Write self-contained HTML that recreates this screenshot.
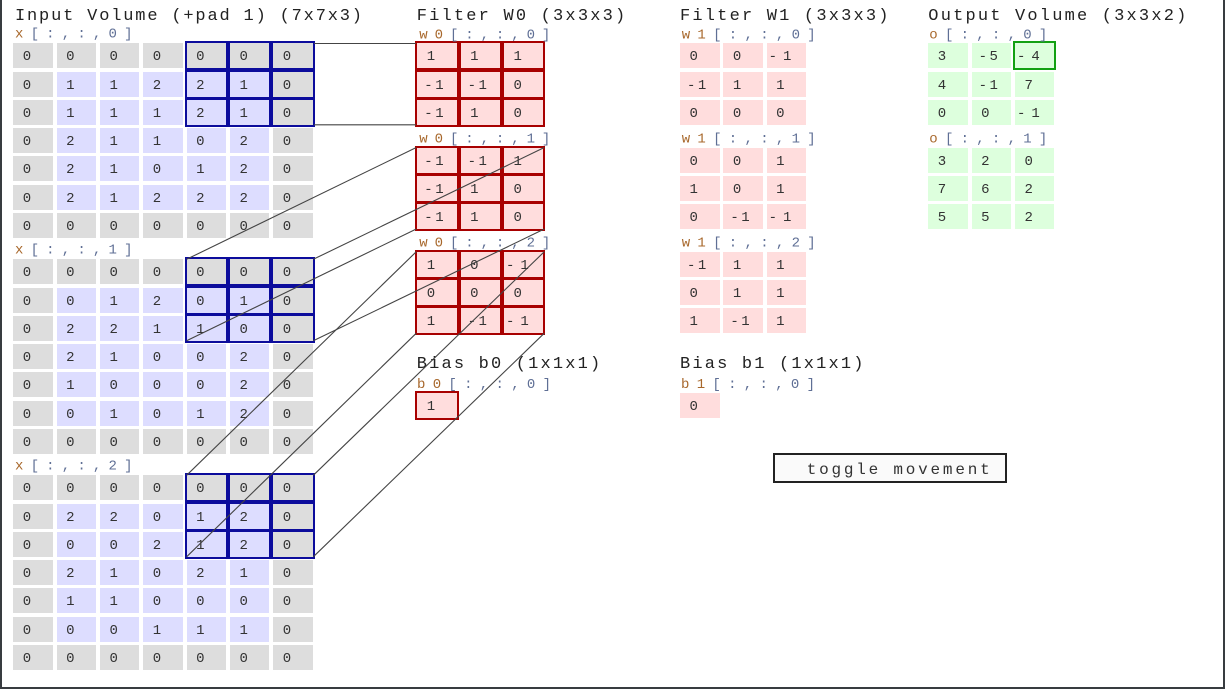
<!DOCTYPE html>
<html><head><meta charset="utf-8">
<style>
html,body{margin:0;padding:0;background:#fff;}
body{width:1225px;height:689px;position:relative;overflow:hidden;}
.grid{position:absolute;display:grid;grid-template-columns:repeat(7,39.5px);grid-auto-rows:25px;column-gap:3.83px;row-gap:3.25px;}
.g3{grid-template-columns:repeat(3,39.5px);}
.g1{grid-template-columns:39.5px;}
.grid>i{display:block;background:#ddd;font:14px/29px "Liberation Mono",monospace;font-style:normal;color:#333;padding-left:9.5px;white-space:nowrap;box-sizing:border-box;}
.grid>i.b{background:#ddf;}
.grid>i.r{background:#fdd;}
.grid>i.e{background:#dfd;}
.grid>i.h{outline:2.3px solid #0c0c9c;outline-offset:-0.9px;}
.grid>i.hr{outline:2.3px solid #a80000;outline-offset:-0.9px;}
.grid>i.hg{outline:2.3px solid #12a012;outline-offset:-0.9px;}
.grid>i.n{padding-left:7px;letter-spacing:2.5px;}
.grid>i.m{padding-left:2px;letter-spacing:6px;}
.frame{position:absolute;background:#383c40;}
.btn{position:absolute;left:772.7px;top:452.7px;width:234.6px;height:30.6px;border:2px solid #222;box-sizing:border-box;background:#fafafa;}
svg{position:absolute;left:0;top:0;}
.hd{font-family:"Liberation Mono",monospace;font-size:17px;fill:#222;}
.lb{font-family:"Liberation Mono",monospace;font-size:14px;fill:#5f6f95;}
.lb tspan{fill:#a8682c;}
.bt{font-family:"Liberation Mono",monospace;font-size:16px;fill:#333;}
</style></head><body>

<div class="frame" style="left:0;top:0;width:2px;height:689px"></div>
<div class="frame" style="left:1223px;top:0;width:2px;height:689px"></div>
<div class="frame" style="left:0;top:687px;width:1225px;height:2px"></div>

<!-- Input x[:,:,0] -->
<div class="grid" style="left:13.3px;top:43.3px">
<i>0</i><i>0</i><i>0</i><i>0</i><i class="h">0</i><i class="h">0</i><i class="h">0</i>
<i>0</i><i class="b">1</i><i class="b">1</i><i class="b">2</i><i class="b h">2</i><i class="b h">1</i><i class="h">0</i>
<i>0</i><i class="b">1</i><i class="b">1</i><i class="b">1</i><i class="b h">2</i><i class="b h">1</i><i class="h">0</i>
<i>0</i><i class="b">2</i><i class="b">1</i><i class="b">1</i><i class="b">0</i><i class="b">2</i><i>0</i>
<i>0</i><i class="b">2</i><i class="b">1</i><i class="b">0</i><i class="b">1</i><i class="b">2</i><i>0</i>
<i>0</i><i class="b">2</i><i class="b">1</i><i class="b">2</i><i class="b">2</i><i class="b">2</i><i>0</i>
<i>0</i><i>0</i><i>0</i><i>0</i><i>0</i><i>0</i><i>0</i>
</div>

<!-- Input x[:,:,1] -->
<div class="grid" style="left:13.3px;top:259.3px">
<i>0</i><i>0</i><i>0</i><i>0</i><i class="h">0</i><i class="h">0</i><i class="h">0</i>
<i>0</i><i class="b">0</i><i class="b">1</i><i class="b">2</i><i class="b h">0</i><i class="b h">1</i><i class="h">0</i>
<i>0</i><i class="b">2</i><i class="b">2</i><i class="b">1</i><i class="b h">1</i><i class="b h">0</i><i class="h">0</i>
<i>0</i><i class="b">2</i><i class="b">1</i><i class="b">0</i><i class="b">0</i><i class="b">2</i><i>0</i>
<i>0</i><i class="b">1</i><i class="b">0</i><i class="b">0</i><i class="b">0</i><i class="b">2</i><i>0</i>
<i>0</i><i class="b">0</i><i class="b">1</i><i class="b">0</i><i class="b">1</i><i class="b">2</i><i>0</i>
<i>0</i><i>0</i><i>0</i><i>0</i><i>0</i><i>0</i><i>0</i>
</div>

<!-- Input x[:,:,2] -->
<div class="grid" style="left:13.3px;top:475.3px">
<i>0</i><i>0</i><i>0</i><i>0</i><i class="h">0</i><i class="h">0</i><i class="h">0</i>
<i>0</i><i class="b">2</i><i class="b">2</i><i class="b">0</i><i class="b h">1</i><i class="b h">2</i><i class="h">0</i>
<i>0</i><i class="b">0</i><i class="b">0</i><i class="b">2</i><i class="b h">1</i><i class="b h">2</i><i class="h">0</i>
<i>0</i><i class="b">2</i><i class="b">1</i><i class="b">0</i><i class="b">2</i><i class="b">1</i><i>0</i>
<i>0</i><i class="b">1</i><i class="b">1</i><i class="b">0</i><i class="b">0</i><i class="b">0</i><i>0</i>
<i>0</i><i class="b">0</i><i class="b">0</i><i class="b">1</i><i class="b">1</i><i class="b">1</i><i>0</i>
<i>0</i><i>0</i><i>0</i><i>0</i><i>0</i><i>0</i><i>0</i>
</div>

<!-- W0 -->
<div class="grid g3" style="left:417.3px;top:43.3px">
<i class="r hr">1</i><i class="r hr">1</i><i class="r hr">1</i>
<i class="r hr n">-1</i><i class="r hr n">-1</i><i class="r hr">0</i>
<i class="r hr n">-1</i><i class="r hr">1</i><i class="r hr">0</i>
</div>
<div class="grid g3" style="left:417.3px;top:147.5px">
<i class="r hr n">-1</i><i class="r hr n">-1</i><i class="r hr">1</i>
<i class="r hr n">-1</i><i class="r hr">1</i><i class="r hr">0</i>
<i class="r hr n">-1</i><i class="r hr">1</i><i class="r hr">0</i>
</div>
<div class="grid g3" style="left:417.3px;top:251.7px">
<i class="r hr">1</i><i class="r hr">0</i><i class="r hr m">-1</i>
<i class="r hr">0</i><i class="r hr">0</i><i class="r hr">0</i>
<i class="r hr">1</i><i class="r hr n">-1</i><i class="r hr m">-1</i>
</div>

<!-- W1 -->
<div class="grid g3" style="left:680px;top:43.3px">
<i class="r">0</i><i class="r">0</i><i class="r m">-1</i>
<i class="r n">-1</i><i class="r">1</i><i class="r">1</i>
<i class="r">0</i><i class="r">0</i><i class="r">0</i>
</div>
<div class="grid g3" style="left:680px;top:147.5px">
<i class="r">0</i><i class="r">0</i><i class="r">1</i>
<i class="r">1</i><i class="r">0</i><i class="r">1</i>
<i class="r">0</i><i class="r n">-1</i><i class="r m">-1</i>
</div>
<div class="grid g3" style="left:680px;top:251.7px">
<i class="r n">-1</i><i class="r">1</i><i class="r">1</i>
<i class="r">0</i><i class="r">1</i><i class="r">1</i>
<i class="r">1</i><i class="r n">-1</i><i class="r">1</i>
</div>

<!-- Biases -->
<div class="grid g1" style="left:417.3px;top:392.8px"><i class="r hr">1</i></div>
<div class="grid g1" style="left:680px;top:393.3px"><i class="r">0</i></div>

<!-- Output -->
<div class="grid g3" style="left:928.3px;top:43.3px">
<i class="e">3</i><i class="e n">-5</i><i class="e hg m">-4</i>
<i class="e">4</i><i class="e n">-1</i><i class="e">7</i>
<i class="e">0</i><i class="e">0</i><i class="e m">-1</i>
</div>
<div class="grid g3" style="left:928.3px;top:147.5px">
<i class="e">3</i><i class="e">2</i><i class="e">0</i>
<i class="e">7</i><i class="e">6</i><i class="e">2</i>
<i class="e">5</i><i class="e">5</i><i class="e">2</i>
</div>

<div class="btn"></div>

<svg width="1225" height="689" viewBox="0 0 1225 689">
<text class="hd" x="15" y="20" textLength="347">Input Volume (+pad 1) (7x7x3)</text>
<text class="hd" x="416.7" y="20" textLength="208.5">Filter W0 (3x3x3)</text>
<text class="hd" x="680" y="20" textLength="208.5">Filter W1 (3x3x3)</text>
<text class="hd" x="928.3" y="20" textLength="258">Output Volume (3x3x2)</text>
<text class="hd" x="416.7" y="368" textLength="183.5">Bias b0 (1x1x1)</text>
<text class="hd" x="680" y="368" textLength="183.5">Bias b1 (1x1x1)</text>

<text class="lb" x="15" y="37.5" textLength="117.5"><tspan>x</tspan>[:,:,0]</text>
<text class="lb" x="15" y="253.5" textLength="117.5"><tspan>x</tspan>[:,:,1]</text>
<text class="lb" x="15" y="469.5" textLength="117.5"><tspan>x</tspan>[:,:,2]</text>
<text class="lb" x="419.3" y="38.5" textLength="131"><tspan>w0</tspan>[:,:,0]</text>
<text class="lb" x="419.3" y="142.5" textLength="131"><tspan>w0</tspan>[:,:,1]</text>
<text class="lb" x="419.3" y="246.5" textLength="131"><tspan>w0</tspan>[:,:,2]</text>
<text class="lb" x="681.7" y="38.5" textLength="134"><tspan>w1</tspan>[:,:,0]</text>
<text class="lb" x="681.7" y="142.5" textLength="134"><tspan>w1</tspan>[:,:,1]</text>
<text class="lb" x="681.7" y="246.5" textLength="134"><tspan>w1</tspan>[:,:,2]</text>
<text class="lb" x="929.3" y="38.5" textLength="118"><tspan>o</tspan>[:,:,0]</text>
<text class="lb" x="929.3" y="142.5" textLength="118"><tspan>o</tspan>[:,:,1]</text>
<text class="lb" x="417" y="388" textLength="134"><tspan>b0</tspan>[:,:,0]</text>
<text class="lb" x="681" y="388" textLength="134"><tspan>b1</tspan>[:,:,0]</text>

<text class="bt" x="806.7" y="474" textLength="183">toggle movement</text>

<g stroke="#444" stroke-width="1.1" fill="none">
<line x1="314" y1="43.5" x2="416" y2="43.5"/>
<line x1="314" y1="124.8" x2="416" y2="124.8"/>

<line x1="186.6" y1="259.3" x2="416.3" y2="147.5"/>
<line x1="313.3" y1="259.3" x2="544.3" y2="147.5"/>
<line x1="186.6" y1="340.8" x2="416.3" y2="229"/>
<line x1="313.3" y1="340.8" x2="544.3" y2="229"/>

<line x1="186.6" y1="475.3" x2="416.3" y2="251.7"/>
<line x1="313.3" y1="475.3" x2="544.3" y2="251.7"/>
<line x1="186.6" y1="556.8" x2="416.3" y2="333.2"/>
<line x1="313.3" y1="556.8" x2="544.3" y2="333.2"/>
</g>
</svg>
</body></html>
